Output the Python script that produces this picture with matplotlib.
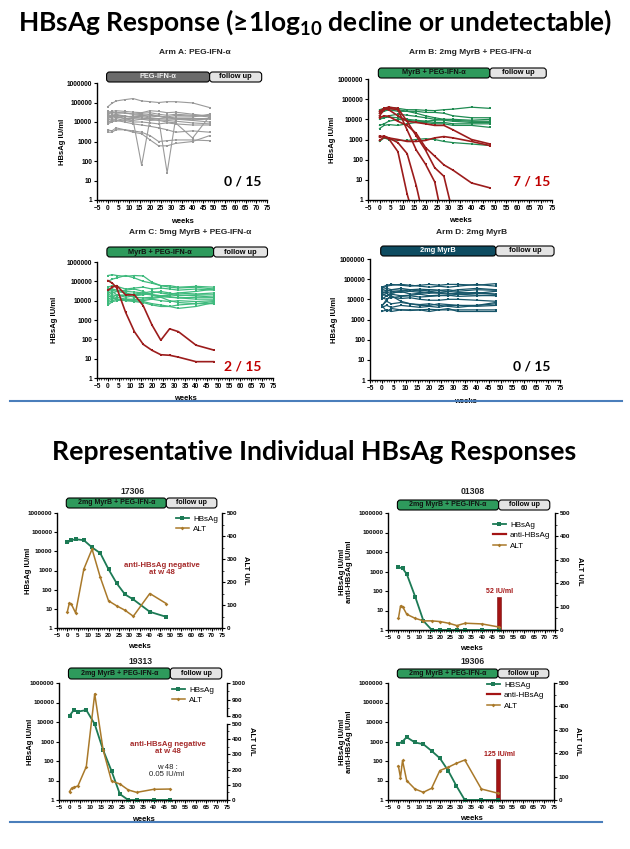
import numpy as np
import matplotlib
matplotlib.use('Agg')
import matplotlib.pyplot as plt
from matplotlib.patches import FancyBboxPatch
from matplotlib.lines import Line2D
import matplotlib.transforms as mtrans
from matplotlib.ticker import FixedLocator, FuncFormatter, NullLocator

plt.rcParams['font.family'] = ['Liberation Sans', 'DejaVu Sans']
plt.rcParams['font.weight'] = 'bold'
plt.rcParams['axes.labelweight'] = 'bold'
plt.rcParams['mathtext.fontset'] = 'custom'
plt.rcParams['mathtext.rm'] = 'Lato'
plt.rcParams['mathtext.bf'] = 'Lato:bold'

# ---------------- data ----------------
W = [0, 2, 4, 8, 12, 16, 20, 24, 28, 32, 40, 48]          # HBsAg visit weeks
WA = [0, 1, 2, 4, 8, 12, 16, 20, 24, 28, 32, 40, 48]     # ALT visit weeks
xticks = list(range(-5, 80, 5))
yticks_log = [1, 10, 100, 1000, 10000, 100000, 1000000]

armA = [
    [60000, 90000, 120000, 140000, 160000, 120000, 110000, 100000, 110000, 110000, 95000, 55000],
    [30000, 35000, 38000, 35000, 32000, 30000, 38000, 35000, 30000, 32000, 25000, 20000],
    [25000, 30000, 28000, 30000, 25000, 28000, 30000, 25000, 22000, 25000, 22000, 18000],
    [20000, 22000, 25000, 20000, 18000, 20000, 25000, 20000, 18000, 15000, 15000, 15000],
    [15000, 18000, 20000, 15000, 12000, 60, 15000, 15000, 14000, 14000, 15000, 15000],
    [12000, 15000, 18000, 15000, 15000, 14000, 15000, 15000, 25, 15000, 13000, 14000],
    [18000, 20000, 22000, 20000, 18000, 16000, 14000, 12000, 10000, 9000, 1500, 20000],
    [10000, 12000, 15000, 12000, 10000, 10000, 9000, 8000, 9000, 8000, 7000, 7000],
    [8000, 10000, 12000, 10000, 8000, 7000, 6000, 5000, 4000, 3000, 3500, 3000],
    [3000, 3000, 4000, 4000, 3500, 3000, 2000, 1000, 1100, 1200, 1200, 1100],
    [4000, 3500, 5000, 4000, 3000, 2500, 1200, 600, 600, 800, 1000, 2000],
    [25000, 20000, 22000, 18000, 20000, 22000, 18000, 20000, 16000, 18000, 18000, 25000],
    [9000, 12000, 11000, 13000, 12000, 14000, 12000, 13000, 12000, 11000, 9000, 8000],
    [14000, 25000, 16000, 20000, 17000, 19000, 16000, 15000, 17000, 14000, 12000, 10000],
    [35000, 30000, 32000, 28000, 26000, 24000, 22000, 20000, 18000, 22000, 20000, 22000],
]
armB_green = [
    [30000, 35000, 40000, 35000, 30000, 30000, 28000, 27000, 30000, 32000, 40000, 35000],
    [20000, 25000, 30000, 25000, 25000, 25000, 22000, 22000, 20000, 15000, 12000, 12000],
    [25000, 30000, 28000, 30000, 25000, 20000, 15000, 12000, 10000, 9000, 8000, 8000],
    [10000, 12000, 13000, 12000, 10000, 9000, 8000, 7000, 7000, 6000, 6000, 6000],
    [3500, 5000, 5500, 5000, 6000, 7000, 7000, 6000, 6000, 5000, 5000, 4000],
    [5000, 6000, 8000, 10000, 9000, 8000, 8000, 9000, 10000, 10000, 9000, 10000],
    [800, 1200, 1000, 900, 900, 1000, 1100, 1000, 800, 700, 600, 500],
    [15000, 12000, 15000, 18000, 16000, 14000, 12000, 10000, 9000, 8000, 7000, 7000],
]
armB_red = [
    [900, 1300, 1100, 250, 2, 0.05],
    [1300, 1500, 1200, 700, 200, 5, 0.05],
    [15000, 30000, 35000, 30000, 3000, 300, 60, 8, 0.05],
    [20000, 35000, 40000, 35000, 8000, 1500, 300, 40, 15, 0.2],
    [12000, 15000, 14000, 8000, 5000, 2000, 400, 150, 55, 30, 7, 4],
    [25000, 35000, 30000, 15000, 8000, 7000, 6000, 5000, 5000, 3000, 1000, 600],
    [1500, 1300, 1200, 1000, 800, 800, 900, 1200, 1400, 1200, 800, 500],
]
armC_green = [
    [200000, 220000, 200000, 180000, 200000, 190000, 90000, 60000, 60000, 50000, 55000, 50000],
    [100000, 130000, 150000, 200000, 150000, 100000, 80000, 60000, 50000, 45000, 50000, 40000],
    [50000, 60000, 55000, 40000, 45000, 50000, 40000, 45000, 40000, 35000, 40000, 35000],
    [30000, 40000, 35000, 30000, 28000, 25000, 30000, 25000, 22000, 25000, 22000, 25000],
    [20000, 25000, 30000, 25000, 20000, 22000, 20000, 18000, 20000, 18000, 20000, 20000],
    [15000, 20000, 18000, 20000, 15000, 14000, 15000, 16000, 15000, 14000, 15000, 15000],
    [10000, 12000, 15000, 12000, 12000, 10000, 12000, 10000, 9000, 10000, 9000, 10000],
    [8000, 10000, 12000, 10000, 9000, 8000, 6000, 5000, 5000, 4000, 5000, 8000],
    [6000, 9000, 10000, 12000, 10000, 9000, 7000, 6000, 5000, 6000, 7000, 9000],
    [12000, 15000, 20000, 18000, 22000, 25000, 20000, 18000, 16000, 14000, 12000, 12000],
    [25000, 30000, 20000, 15000, 18000, 20000, 25000, 30000, 25000, 20000, 18000, 15000],
    [40000, 35000, 30000, 35000, 40000, 30000, 20000, 15000, 20000, 25000, 30000, 40000],
    [18000, 15000, 12000, 10000, 11000, 12000, 13000, 15000, 10000, 8000, 7000, 7000],
]
armC_red = [
    [35000, 50000, 60000, 20000, 20000, 5500, 550, 90, 350, 250, 50, 28],
    [110000, 80000, 45000, 2500, 250, 55, 27, 16, 15, 12, 7, 7],
]
armD = [
    [40000, 50000, 55000, 50000, 45000, 50000, 55000, 50000, 55000, 55000, 50000, 60000],
    [35000, 45000, 50000, 55000, 50000, 45000, 40000, 45000, 40000, 45000, 55000, 45000],
    [30000, 35000, 30000, 28000, 30000, 32000, 30000, 28000, 30000, 25000, 30000, 28000],
    [25000, 28000, 25000, 22000, 25000, 22000, 20000, 22000, 25000, 22000, 20000, 25000],
    [20000, 22000, 20000, 25000, 18000, 20000, 22000, 20000, 18000, 20000, 22000, 18000],
    [18000, 15000, 18000, 15000, 16000, 18000, 15000, 16000, 15000, 18000, 16000, 15000],
    [15000, 20000, 12000, 14000, 15000, 13000, 14000, 15000, 16000, 14000, 15000, 16000],
    [12000, 10000, 13000, 11000, 12000, 10000, 9000, 9000, 10000, 10000, 9000, 8000],
    [5000, 8000, 6000, 7000, 6000, 5000, 5000, 6000, 5500, 5000, 5000, 6000],
    [4000, 5000, 4000, 5000, 4500, 4000, 4500, 4000, 5000, 5000, 4500, 5000],
    [2500, 3000, 2500, 3000, 3000, 3000, 3200, 3000, 3500, 2500, 2500, 2500],
    [5000, 2500, 3500, 3000, 2800, 3000, 2500, 3000, 3000, 3000, 3000, 3000],
    [10000, 15000, 20000, 25000, 30000, 28000, 25000, 22000, 20000, 18000, 20000, 18000],
    [4500, 10000, 15000, 8000, 6000, 5500, 6000, 5000, 4500, 4000, 5000, 7000],
    [20000, 25000, 30000, 35000, 30000, 25000, 30000, 28000, 25000, 30000, 35000, 30000],
]

p17306_hbs = [29000, 38000, 43000, 38000, 16000, 8000, 1150, 210, 56, 31, 7, 3.8]
p17306_alt = [70, 109, 103, 66, 256, 343, 220, 118, 96, 77, 51, 150, 106]
p01308_hbs = [1650, 1450, 730, 52, 2.9, 1, 1, 1, 1, 1, 1, 1]
p01308_alt = [50, 103, 100, 67, 50, 39, 39, 36, 29, 19, 29, 26, 13]
p01308_anti = 52
p19313_hbs = [21000, 40000, 34000, 41000, 7800, 370, 31, 2, 1, 1, 1, 1]
p19313_alt = [55, 77, 83, 92, 219, 935, 330, 125, 105, 66, 50, 70, 72]
p19306_hbs = [760, 1000, 1670, 890, 730, 330, 139, 32, 5.2, 1, 1, 1]
p19306_alt = [146, 96, 169, 83, 47, 33, 50, 126, 140, 157, 171, 47, 29]
p19306_anti = 125
anti_week = 48

# ---------------- colours ----------------
GRAY = '#9a9a9a'
GREEN_B = '#1f8b52'
GREEN_C = '#3fba7d'
TEAL = '#17566a'
RED = '#9c1c1c'
HBS_C = '#1c7a55'
ALT_C = '#a9792a'
BAR_GREEN = '#2e9a5c'
FOLLOW = '#e4e4e4'

FW, FH = 630, 849
fig = plt.figure(figsize=(FW / 100, FH / 100), dpi=100)
ID = mtrans.IdentityTransform()


def px_axes(l, t, r, b):
    return fig.add_axes([l / FW, 1 - b / FH, (r - l) / FW, (b - t) / FH])


def style_log(ax, tsize=4.7):
    ax.set_yscale('log')
    ax.set_ylim(1, 1e6)
    ax.set_xlim(-5, 75)
    ax.yaxis.set_major_locator(FixedLocator(yticks_log))
    ax.yaxis.set_minor_locator(NullLocator())
    ax.yaxis.set_major_formatter(FuncFormatter(lambda v, p: f"{int(round(v))}"))
    ax.xaxis.set_major_locator(FixedLocator(xticks))
    ax.xaxis.set_minor_locator(FixedLocator(list(range(-5, 76))))
    for s in ('top', 'right'):
        ax.spines[s].set_visible(False)
    for s in ('left', 'bottom'):
        ax.spines[s].set_linewidth(1.0)
    ax.tick_params(which='major', direction='out', length=2.5, width=0.8,
                   labelsize=tsize, pad=1)
    ax.tick_params(which='minor', direction='out', length=1.2, width=0.5)
    ax.tick_params(axis='y', which='minor', length=0)


def set_labels(ax, box, ylabel, ylx, xly, size=5.5):
    l, t, r, b = box
    ax.set_xlabel('weeks', fontsize=size)
    ax.xaxis.set_label_coords(0.5, (b - xly) / (b - t))
    ax.set_ylabel(ylabel, fontsize=size, ha='center', va='center', linespacing=1.0)
    ax.yaxis.set_label_coords((ylx - l) / (r - l), 0.5)


def phase_bar(ax, top, bot, label, fc, tc, tsize=5.0):
    def xd(x):
        return ax.transData.transform((x, 1))[0]
    y0 = FH - bot
    h = bot - top
    x0, x1, x2 = xd(-0.5), xd(48), xd(72.5)
    for (a, b_, f, txt, c) in ((x0, x1, fc, label, tc), (x1, x2, FOLLOW, 'follow up', 'black')):
        p = FancyBboxPatch((a, y0), b_ - a, h, boxstyle='round,pad=0,rounding_size=3',
                           facecolor=f, edgecolor='black', linewidth=0.8, transform=ID)
        fig.add_artist(p)
        fig.text((a + b_) / 2, y0 + h / 2, txt, transform=ID, ha='center', va='center',
                 fontsize=tsize, color=c, fontweight='bold')


def spaghetti(ax, rows, color, lw=0.9, ms=1.8):
    for row in rows:
        ax.plot(W[:len(row)], row, color=color, lw=lw, marker='s', ms=ms,
                markeredgewidth=0, zorder=2)


# ---------------- titles ----------------
fig.text(315 / FW, 1 - 22 / FH, r'HBsAg Response (≥1log$_{\mathbf{10}}$ decline or undetectable)',
         ha='center', va='center', fontsize=19, family=['Lato', 'DejaVu Sans'], fontweight='bold')
fig.text(314 / FW, 1 - 452 / FH, 'Representative Individual HBsAg Responses',
         ha='center', va='center', fontsize=19.2, family=['Lato', 'DejaVu Sans'], fontweight='bold')

for yy, x1 in ((401, 622), (822, 602)):
    fig.add_artist(Line2D([10 / FW, x1 / FW], [1 - yy / FH] * 2, color='#4a7ebb', lw=1.5,
                          transform=fig.transFigure))

# ---------------- top panels ----------------
top_specs = [
    dict(box=(97, 83, 267, 200), title='Arm A: PEG-IFN-\u03b1', txy=(195, 52),
         bar=(72, 82), blabel='PEG-IFN-\u03b1', bfc='#6b6b6b', btc='#eeeeee',
         frac='0 / 15', fcol='black', fxy=(243, 182), ylx=62, xly=218),
    dict(box=(368, 79, 552, 200), title='Arm B: 2mg MyrB + PEG-IFN-\u03b1', txy=(470, 53),
         bar=(68, 78), blabel='MyrB + PEG-IFN-\u03b1', bfc=BAR_GREEN, btc='#111111',
         frac='7 / 15', fcol='#c00000', fxy=(532, 182), ylx=332, xly=217),
    dict(box=(97, 262, 273, 378), title='Arm C: 5mg MyrB + PEG-IFN-\u03b1', txy=(190, 232),
         bar=(247, 257), blabel='MyrB + PEG-IFN-\u03b1', bfc=BAR_GREEN, btc='#111111',
         frac='2 / 15', fcol='#c00000', fxy=(243, 367), ylx=55, xly=395),
    dict(box=(370, 259, 560, 380), title='Arm D: 2mg MyrB', txy=(472, 233),
         bar=(246, 256), blabel='2mg MyrB', bfc='#0e4c61', btc='white',
         frac='0 / 15', fcol='black', fxy=(532, 367), ylx=335, xly=398),
]
top_data = [
    [(armA, GRAY, 0.8)],
    [(armB_green, GREEN_B, 0.9), (armB_red, RED, 1.2)],
    [(armC_green, GREEN_C, 0.9), (armC_red, RED, 1.2)],
    [(armD, TEAL, 0.9)],
]
for spec, groups in zip(top_specs, top_data):
    ax = px_axes(*spec['box'])
    style_log(ax)
    for rows, col, lw in groups:
        spaghetti(ax, rows, col, lw=lw)
    set_labels(ax, spec['box'], 'HBsAg IU/ml', spec['ylx'], spec['xly'], size=5.5)
    fig.text(spec['txy'][0] / FW, 1 - spec['txy'][1] / FH, spec['title'], ha='center',
             va='center', fontsize=6.0, fontweight='bold', color='#222222')
    phase_bar(ax, spec['bar'][0], spec['bar'][1], spec['blabel'], spec['bfc'], spec['btc'],
              tsize=5.3)
    fig.text(spec['fxy'][0] / FW, 1 - spec['fxy'][1] / FH, spec['frac'], ha='center',
             va='center', fontsize=10, family=['Lato', 'DejaVu Sans'], fontweight='bold',
             color=spec['fcol'])

# ---------------- bottom panels ----------------
def fwd(v):
    v = np.asarray(v, dtype=float)
    return np.where(v <= 500, v, np.where(v <= 800, 500 + (v - 500) * 0.161,
                                          548.3 + (v - 800) * 1.096))


def inv(u):
    u = np.asarray(u, dtype=float)
    return np.where(u <= 500, u, np.where(u <= 548.3, 500 + (u - 500) / 0.161,
                                          800 + (u - 548.3) / 1.096))


bot_specs = [
    dict(box=(57, 513, 222, 628), title='17306', txy=(133, 492), bar=(498, 508),
         hbs=p17306_hbs, alt=p17306_alt, anti=None, ylabel='HBsAg IU/ml', ylx=29,
         rlx=245, xly=643, leg=(176, 515), broken=False),
    dict(box=(388, 513, 555, 630), title='01308', txy=(473, 492), bar=(500, 510),
         hbs=p01308_hbs, alt=p01308_alt, anti=p01308_anti,
         ylabel='HBsAg IU/ml\nanti-HBsAg IU/ml', ylx=346, rlx=580, xly=645,
         leg=(493, 521), broken=False),
    dict(box=(59, 683, 227, 800), title='19313', txy=(140, 662), bar=(668, 679),
         hbs=p19313_hbs, alt=p19313_alt, anti=None, ylabel='HBsAg IU/ml', ylx=30,
         rlx=252, xly=816, leg=(172, 686), broken=True),
    dict(box=(388, 683, 554, 800), title='19306', txy=(473, 662), bar=(669, 678),
         hbs=p19306_hbs, alt=p19306_alt, anti=p19306_anti,
         ylabel='HBsAg IU/ml\nanti-HBsAg IU/ml', ylx=346, rlx=578, xly=815,
         leg=(487, 681), broken=False),
]
for i, spec in enumerate(bot_specs):
    box = spec['box']
    ax = px_axes(*box)
    style_log(ax, tsize=4.5)
    set_labels(ax, box, spec['ylabel'], spec['ylx'], spec['xly'], size=5.5)
    ax2 = ax.twinx()
    for s in ('top', 'left'):
        ax2.spines[s].set_visible(False)
    ax2.spines['right'].set_linewidth(1.0)
    if spec['broken']:
        ax2.set_yscale('function', functions=(fwd, inv))
        ax2.set_ylim(0, 1000)
        ax2.yaxis.set_major_locator(FixedLocator([0, 100, 200, 300, 400, 500, 800, 900, 1000]))
        ax2.yaxis.set_minor_locator(FixedLocator([50, 150, 250, 350, 450, 850, 950]))
        ax2.spines['right'].set_visible(False)
        btr = mtrans.blended_transform_factory(ax2.transAxes, ax2.transData)
        for seg in ((0, 500), (800, 1000)):
            ax2.plot([1, 1], seg, color='black', lw=1.0, transform=btr, clip_on=False)
    else:
        ax2.set_ylim(0, 500)
        ax2.yaxis.set_major_locator(FixedLocator([0, 100, 200, 300, 400, 500]))
        ax2.yaxis.set_minor_locator(FixedLocator([50, 150, 250, 350, 450]))
    ax2.yaxis.set_major_formatter(FuncFormatter(lambda v, p: f"{int(round(v))}"))
    ax2.tick_params(which='major', direction='out', length=2.5, width=0.8, labelsize=4.5, pad=1)
    ax2.tick_params(which='minor', direction='out', length=1.2, width=0.5)
    ax2.set_ylabel('ALT U/L', fontsize=5.5, rotation=270, ha='center', va='center')
    ax2.yaxis.set_label_coords((spec['rlx'] - box[0]) / (box[2] - box[0]), 0.5)

    handles = []
    if spec['anti'] is not None:
        ax.bar([anti_week], [spec['anti'] - 1], bottom=1, width=2.0, color='#a31414',
               edgecolor='#7a0e0e', linewidth=0.4, zorder=3, clip_on=False)
        ax.text(anti_week + 0.5, spec['anti'] * 1.15, f"{spec['anti']} IU/ml", ha='center',
                va='bottom', fontsize=5.0, color='#a31414', fontweight='bold')
    hl, = ax.plot(W, spec['hbs'], color=HBS_C, lw=1.3, marker='s', ms=2.8,
                  markeredgewidth=0, clip_on=False, zorder=4)
    al, = ax2.plot(WA, spec['alt'], color=ALT_C, lw=1.1, marker='D', ms=1.9,
                   markeredgewidth=0, clip_on=False, zorder=4)
    handles.append((hl, 'HBSAg' if i == 3 else 'HBsAg'))
    if spec['anti'] is not None:
        handles.append((Line2D([], [], color='#a31414', lw=1.6), 'anti-HBsAg'))
    handles.append((al, 'ALT'))
    ax2.legend([h for h, _ in handles], [t for _, t in handles], loc='upper left',
               bbox_to_anchor=(spec['leg'][0] / FW, 1 - spec['leg'][1] / FH),
               bbox_transform=fig.transFigure, frameon=False,
               prop={'size': 5.8, 'weight': 'normal'}, handlelength=1.6,
               labelspacing=0.35, borderpad=0, handletextpad=0.5, borderaxespad=0)
    fig.text(spec['txy'][0] / FW, 1 - spec['txy'][1] / FH, spec['title'], ha='center',
             va='center', fontsize=6.2, fontweight='bold', color='#222222')
    phase_bar(ax, spec['bar'][0], spec['bar'][1], '2mg MyrB + PEG-IFN-\u03b1', BAR_GREEN,
              '#111111', tsize=5.0)

# annotations
fig.text(162 / FW, 1 - 569 / FH, 'anti-HBsAg negative\nat w 48', ha='center', va='center',
         fontsize=5.6, color='#a52a2a', fontweight='bold', linespacing=1.1)
fig.text(168 / FW, 1 - 748 / FH, 'anti-HBsAg negative\nat w 48', ha='center', va='center',
         fontsize=5.6, color='#a52a2a', fontweight='bold', linespacing=1.1)
fig.text(167 / FW, 1 - 771 / FH, 'w 48 :\n0.05 IU/ml', ha='center', va='center',
         fontsize=5.6, color='#222222', fontweight='normal', linespacing=1.1)

fig.savefig('out.png', dpi=100, facecolor='white')
